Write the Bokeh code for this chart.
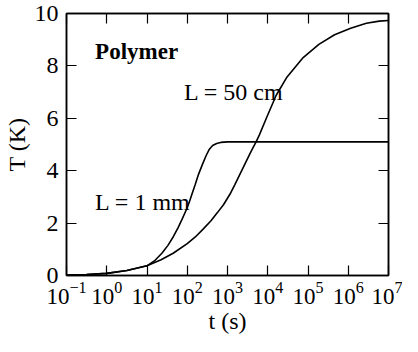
from bokeh.plotting import figure
from bokeh.models import Range1d, LogAxis, LinearAxis, FixedTicker, Label, CustomJSTickFormatter
from bokeh.embed import file_html
from bokeh.resources import INLINE

# ---- data ----
x_tick_exponents = [-1, 0, 1, 2, 3, 4, 5, 6, 7]
y_ticks = [0, 2, 4, 6, 8, 10]

# L = 1 mm curve: log10(t / s) and T (K)
logt_1mm = [-1.0, -0.5, 0.0, 0.5, 1.0, 1.2, 1.37, 1.52, 1.65, 1.77, 1.87, 1.98,
            2.05, 2.12, 2.20, 2.28, 2.38, 2.47, 2.55, 2.63, 2.73, 2.83, 3.0, 4.0,
            5.0, 6.0, 7.0]
T_1mm = [0.02, 0.04, 0.08, 0.19, 0.37, 0.58, 0.85, 1.15, 1.47, 1.82, 2.14, 2.52,
         2.80, 3.12, 3.48, 3.86, 4.25, 4.58, 4.82, 4.96, 5.04, 5.08, 5.10, 5.10,
         5.10, 5.10, 5.10]

# L = 50 cm curve
logt_50cm = [-1.0, -0.5, 0.0, 0.5, 1.0, 1.35, 1.65, 2.0, 2.2, 2.4, 2.59, 2.75,
             2.9, 3.06, 3.18, 3.38, 3.58, 3.71, 3.79, 3.97, 4.21, 4.48, 4.88,
             5.27, 5.66, 6.06, 6.45, 6.77, 7.0]
T_50cm = [0.02, 0.04, 0.08, 0.19, 0.37, 0.60, 0.85, 1.22, 1.47, 1.78, 2.09, 2.40,
          2.70, 3.10, 3.46, 4.09, 4.72, 5.10, 5.36, 6.02, 6.88, 7.58, 8.32,
          8.82, 9.19, 9.44, 9.63, 9.71, 9.73]

annotation_texts = ["Polymer", "L = 50 cm", "L = 1 mm"]
x_label = "t (s)"
y_label = "T (K)"

FONT = "Liberation Serif"

p = figure(width=402, height=336, x_axis_type="log",
           x_range=Range1d(10.0 ** -1, 10.0 ** 7), y_range=Range1d(0, 10),
           output_backend="svg", toolbar_location=None,
           min_border_left=61, min_border_right=14, min_border_top=13,
           min_border_bottom=61)
p.background_fill_color = "white"
p.border_fill_color = "white"
p.outline_line_color = "black"
p.outline_line_width = 1.5
p.grid.visible = False

x_ticker = FixedTicker(ticks=[10.0 ** e for e in x_tick_exponents], minor_ticks=[])
y_ticker = FixedTicker(ticks=y_ticks, minor_ticks=[])
blank = CustomJSTickFormatter(code="return '';")


def style(ax):
    ax.major_tick_in = 10
    ax.major_tick_out = 0
    ax.minor_tick_in = 0
    ax.minor_tick_out = 0
    ax.axis_line_color = "black"
    ax.axis_line_width = 1.5
    ax.major_tick_line_color = "black"
    ax.major_tick_line_width = 1.2
    ax.major_label_text_font = FONT
    ax.major_label_text_color = "black"
    ax.major_label_text_font_size = "24px"
    ax.axis_label_text_font = FONT
    ax.axis_label_text_font_style = "normal"
    ax.axis_label_text_font_size = "24px"
    ax.axis_label_text_color = "black"


xa = p.xaxis[0]
xa.ticker = x_ticker
style(xa)
xa.major_label_text_font_size = "23px"
xa.major_label_standoff = 6
xa.axis_label = x_label
xa.axis_label_standoff = 1

ya = p.yaxis[0]
ya.ticker = y_ticker
style(ya)
ya.major_label_standoff = 8
ya.axis_label = y_label
ya.axis_label_standoff = 2

top = LogAxis(ticker=x_ticker, major_label_standoff=0, formatter=blank)
style(top)
top.major_label_text_font_size = "10px"
p.add_layout(top, "above")

right = LinearAxis(ticker=y_ticker, major_label_standoff=0, formatter=blank)
style(right)
right.major_label_text_font_size = "10px"
p.add_layout(right, "right")

t_1mm = [10.0 ** v for v in logt_1mm]
t_50cm = [10.0 ** v for v in logt_50cm]
p.line(t_1mm, T_1mm, line_color="black", line_width=1.6)
p.line(t_50cm, T_50cm, line_color="black", line_width=1.6)

p.add_layout(Label(x=10.0 ** -0.29, y=8.55, text=annotation_texts[0],
                   text_font=FONT, text_font_style="bold", text_font_size="23px",
                   text_color="black", text_baseline="alphabetic"))
p.add_layout(Label(x=10.0 ** 1.92, y=7.02, text=annotation_texts[1],
                   text_font=FONT, text_font_size="24px",
                   text_color="black", text_baseline="alphabetic"))
p.add_layout(Label(x=10.0 ** -0.29, y=2.80, text=annotation_texts[2],
                   text_font=FONT, text_font_size="24px",
                   text_color="black", text_baseline="alphabetic"))

open("out.html", "w").write(file_html(p, INLINE))
